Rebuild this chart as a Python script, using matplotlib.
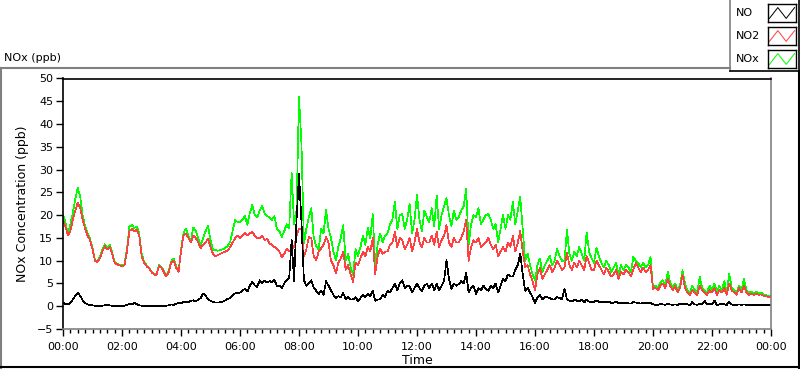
import numpy as np
import matplotlib.pyplot as plt
from matplotlib.lines import Line2D

# 5-minute readings, one row per hour (00:00 .. 23:55) plus the 24:00 value
no2 = [
    19, 17.5, 15.5, 16.5, 19, 21, 22.8, 21.5, 19, 17, 15.5, 14.5,
    12.5, 10, 9.7, 10.5, 12, 13.2, 12.5, 13, 11.5, 9.5, 9.2, 9,
    8.8, 9, 12, 16.5, 17, 16.5, 16.8, 15.5, 11, 9.5, 8.8, 8.3,
    7.5, 7, 6.8, 8.8, 8.5, 7.5, 6.5, 7.5, 9.5, 10, 8.5, 7.5,
    12, 15.5, 16, 15, 14, 15.5, 15, 14, 12.8, 13.5, 14, 14.9,
    13, 11.5, 11, 11.2, 11.5, 11.8, 12, 12.2, 13, 14, 14.9, 15.5,
    15, 15.5, 16.2, 15.6, 16, 16.3, 15.5, 15, 14.9, 15.5, 14.5, 14.8,
    13.8, 13.5, 13, 12.7, 12, 10.8, 11.5, 12.7, 12, 12.5, 13, 15.5,
    17, 17, 11, 12.5, 15.2, 14.9, 11, 10.1, 12, 12.7, 13.5, 15.2,
    14, 10, 9, 7.2, 9.5, 10.5, 11.9, 8, 9, 7, 5.3, 9.5,
    9.1, 10.5, 12, 11, 13, 12, 15, 7.1, 11, 12.7, 11.5, 12,
    12, 13.5, 14, 16.3, 13, 15, 14.6, 12.5, 13.5, 15, 12, 14,
    17, 14, 13, 15, 14, 14, 15.5, 13.5, 16.3, 13, 14.5, 15.5,
    17.8, 14, 13, 15, 14, 14, 15, 16.5, 19, 10, 13, 14.5,
    14, 15, 13, 13.5, 14, 15, 13.5, 12.5, 13.5, 11, 12, 13,
    12, 14, 13, 15.5, 12, 14, 16.5, 12, 8.6, 9, 7, 5.5,
    3.5, 7, 8.5, 6, 7, 8, 9, 7.5, 8.5, 10, 9, 8,
    8.5, 11.7, 9, 8, 9.5, 8.5, 10, 9, 8, 11, 9.5, 8,
    8, 10, 9, 8, 7, 8.5, 7.5, 6.5, 7, 8, 6, 7.5,
    7, 8, 7.5, 6.5, 8, 9.5, 8.5, 7.5, 8.5, 7.5, 8, 9,
    3.8, 4, 3.5, 4.5, 5, 4, 6, 4.5, 3.5, 4.5, 3, 4,
    7.0, 4, 3, 2.5, 3.5, 3, 2.5, 4.5, 3.5, 3, 2.5, 3.5,
    3, 4, 2.5, 3.5, 3, 4, 2.5, 5, 3.5, 3, 2.5, 4,
    3, 4.5, 3, 2.5, 2.8, 2.5, 2.8, 2.5, 2.6, 2.3, 2.2, 2.0,
    2.0,
]

nox = [
    20, 18.5, 15.5, 18, 20.5, 23.5, 26, 24, 20, 17.5, 16, 14.8,
    12.8, 10.2, 9.8, 10.8, 12.5, 13.6, 12.8, 13.5, 11.8, 9.7, 9.3, 9.1,
    8.9, 9.2, 12.5, 17.5, 17.8, 17.2, 17.5, 16, 11.5, 9.8, 9, 8.5,
    7.6, 7.1, 6.9, 9, 8.7, 7.7, 6.7, 7.8, 9.8, 10.5, 8.8, 7.6,
    12.5, 16, 17.1, 15.5, 14.3, 17.3, 16.5, 15, 13.3, 15, 16.5, 17.6,
    14.5, 12.5, 12.3, 12.2, 12.3, 12.5, 12.8, 13.2, 14.1, 16.5, 18.9, 18.5,
    18.5, 19, 19.8, 17.9, 20.5, 22.2, 20, 19.5, 21, 22, 20.4, 19.8,
    19.6, 19, 19.8, 17, 16.5, 15.2, 16.5, 18, 17.1, 29.2, 18, 21,
    46, 35.8, 13.8, 17, 19.6, 21.5, 15, 13.2, 12.5, 17, 16, 21.2,
    17, 15, 12, 10.1, 13, 15, 17.8, 10, 11.5, 8.5, 6.8, 12.5,
    11.1, 13, 15.5, 13.5, 17.2, 15, 20.2, 9, 13.5, 16, 14, 15.5,
    16, 18, 19, 22.9, 17, 20, 20.2, 17, 19, 22.5, 16, 19,
    24.4, 19, 16.5, 21, 19.6, 18.5, 21.5, 17.5, 24.2, 17, 20, 22,
    23.7, 20, 17.6, 21, 19, 19.6, 21, 22, 25.7, 13.5, 18, 20,
    19.6, 21.5, 18, 19, 20, 20.2, 19, 17, 18, 14, 17, 20,
    17, 20, 19, 22.9, 18, 21, 24, 17, 10, 11.5, 9, 7,
    5.7, 9, 10.5, 7.5, 9, 10, 11, 9, 10, 12.7, 11, 10,
    10, 16.8, 11.5, 10, 12, 11, 13, 11.5, 10, 16.2, 12, 10.5,
    9.5, 12.8, 11, 9.5, 8.5, 10, 9, 7.5, 8.5, 9.5, 7, 9,
    8, 9, 8.5, 7.5, 10.8, 10, 9.5, 8.5, 9.5, 8.5, 9, 10.8,
    4.0, 4.5, 4, 5.2, 5.7, 4.5, 7.5, 5.2, 4, 5, 3.5, 4.5,
    7.9, 5, 3.5, 3, 4.5, 3.5, 3, 6.4, 4, 3.5, 3, 4.5,
    3.5, 5, 3, 4.5, 3.5, 5.5, 3, 7.2, 4, 3.5, 3, 4.5,
    3.5, 6.0, 3.5, 3, 3.2, 2.8, 3.2, 2.8, 3.0, 2.6, 2.4, 2.2,
    2.2,
]

no = [
    0.8, 0.5, 0.4, 0.7, 1.5, 2.3, 2.9, 2.3, 1.3, 0.7, 0.4, 0.3,
    0.2, 0.1, 0.1, 0.1, 0.1, 0.2, 0.4, 0.2, 0.1, 0.0, 0.0, 0.0,
    0.1, 0.1, 0.3, 0.5, 0.4, 0.7, 0.5, 0.2, 0.1, 0.1, 0.1, 0.1,
    0.1, 0.1, 0.1, 0.1, 0.1, 0.1, 0.1, 0.2, 0.4, 0.3, 0.5, 0.7,
    0.6, 0.9, 1.0, 0.8, 1.2, 1.3, 1.0, 1.5, 1.8, 2.8, 2.3, 1.5,
    1.2, 0.9, 0.8, 0.8, 0.9, 1.0, 1.3, 1.6, 1.8, 2.5, 2.8, 2.9,
    3.0, 3.5, 3.8, 3.2, 4.5, 5.3, 4.6, 4.2, 5.7, 5.0, 5.6, 5.2,
    5.5, 5.3, 5.8, 4.4, 4.5, 4.0, 5.0, 5.8, 6.1, 14.5, 5.5, 18.9,
    29, 18.5, 5.7, 4.5, 5.0, 5.7, 4.0, 3.4, 2.7, 3.4, 2.5, 5.5,
    4.5, 3.5, 2.5, 1.8, 2.2, 2.0, 2.9, 1.5, 2.0, 1.5, 1.5, 2.0,
    1.1, 1.8, 2.5, 2, 2.7, 2.2, 3.4, 1.2, 1.5, 1.5, 2.5, 2.0,
    3.4, 3.0, 4.0, 4.9, 3.5, 5.0, 5.7, 4.0, 4.5, 4.4, 3.0, 4.0,
    4.9, 4.0, 3.4, 4.5, 4.9, 4.0, 5.0, 3.5, 5.0, 3.5, 4.5, 5.5,
    10.1, 6, 3.8, 5.0, 4.5, 4.9, 5.5, 5.0, 7.3, 3.0, 4.0, 4.5,
    2.7, 4.0, 3.5, 4.5, 3.8, 3.4, 4.5, 4.0, 5.0, 3.0, 4.5, 6.0,
    5.5, 7, 6.5, 6.5, 8.0, 9.0, 11.6, 7.0, 3.4, 4.0, 3.0, 2.0,
    0.7, 2.0, 2.5, 1.5, 2.0, 2.0, 1.8, 1.5, 1.5, 2.0, 1.8, 1.5,
    3.9, 1.5, 1.2, 1.0, 1.5, 1.2, 1.0, 1.4, 0.8, 1.5, 1.0, 1.0,
    1.0, 1.2, 1.0, 0.8, 1.0, 0.9, 1.0, 0.7, 0.8, 1.0, 0.6, 0.8,
    0.7, 0.8, 0.6, 0.6, 0.9, 0.8, 0.7, 0.6, 0.8, 0.7, 0.6, 0.8,
    0.4, 0.3, 0.3, 0.5, 0.4, 0.3, 0.5, 0.4, 0.3, 0.4, 0.3, 0.5,
    0.5, 0.6, 0.4, 0.3, 0.9, 0.4, 0.3, 0.6, 0.5, 1.2, 0.4, 0.5,
    0.5, 1.2, 0.3, 0.4, 0.5, 0.4, 0.3, 1.0, 0.4, 0.3, 0.3, 0.4,
    0.3, 0.4, 0.3, 0.2, 0.3, 0.2, 0.2, 0.2, 0.2, 0.2, 0.2, 0.2,
    0.2,
]

hours = np.arange(len(no)) / 12.0
tick_hours = list(range(0, 25, 2))
tick_labels = ["%02d:00" % (h % 24) for h in tick_hours]
series_names = ["NO", "NO2", "NOx"]
series_colors = ["#000000", "#FF4040", "#00FF00"]

plt.rcParams["font.family"] = "DejaVu Sans"
plt.rcParams["font.size"] = 8

fig = plt.figure(figsize=(8, 3.69), dpi=100)
ax = fig.add_axes([63 / 800, 1 - 329 / 369, 708 / 800, 250.5 / 369])

# green under red under black, like the reference
ax.plot(hours, nox, color=series_colors[2], lw=0.5, antialiased=False)
ax.plot(hours, no2, color=series_colors[1], lw=0.5, antialiased=False)
ax.plot(hours, no, color=series_colors[0], lw=0.5, antialiased=False)

ax.set_xlim(0, 24)
ax.set_ylim(-5, 50)
ax.set_xticks(tick_hours)
ax.set_xticklabels(tick_labels)
ax.set_xticks(np.arange(0, 24.01, 0.25), minor=True)
ax.set_yticks(range(-5, 51, 5))
ax.tick_params(axis="x", which="major", direction="out", length=5, width=1, pad=4)
ax.tick_params(axis="x", which="minor", direction="out", length=3, width=1)
ax.tick_params(axis="y", which="major", direction="out", length=5, width=1, pad=2)

ax.spines["left"].set_color("black")
ax.spines["top"].set_color("black")
ax.spines["right"].set_color("#808080")
ax.spines["bottom"].set_color("#808080")
for s in ax.spines.values():
    s.set_linewidth(1.2)

ax.set_ylabel("NOx Concentration (ppb)", fontsize=9, labelpad=6)
ax.set_xlabel("Time", fontsize=9, labelpad=2)

fig.text(4 / 800, 1 - 58 / 369, "NOx (ppb)", fontsize=8, va="center", ha="left")

# panel frame
fig.add_artist(Line2D([0, 730 / 800], [1 - 68 / 369] * 2, color="#808080", lw=1.5))
fig.add_artist(Line2D([1 / 800] * 2, [1 - 68 / 369, 0], color="#808080", lw=1.5))
fig.add_artist(Line2D([0, 1], [1 - 367 / 369] * 2, color="black", lw=1.5))
fig.add_artist(Line2D([799 / 800] * 2, [1 - 71 / 369, 0], color="black", lw=1.5))

# legend box
fig.add_artist(Line2D([730 / 800] * 2, [1, 1 - 71 / 369], color="#808080", lw=1.2))
fig.add_artist(Line2D([730 / 800, 1], [1 - 71 / 369] * 2, color="black", lw=1.2))
fig.add_artist(Line2D([799 / 800] * 2, [1, 1 - 71 / 369], color="black", lw=1.2))
for i, (name, col) in enumerate(zip(series_names, series_colors)):
    yc = 13 + i * 23
    fig.text(736 / 800, 1 - yc / 369, name, fontsize=8, va="center", ha="left")
    lax = fig.add_axes([768 / 800, 1 - (yc + 9) / 369, 28 / 800, 18 / 369])
    lax.plot([0.05, 0.35, 0.65, 0.95], [0.2, 0.8, 0.2, 0.8], color=col, lw=0.72)
    lax.set_xlim(0, 1)
    lax.set_ylim(0, 1)
    lax.set_xticks([])
    lax.set_yticks([])
    for s in lax.spines.values():
        s.set_color("black")
        s.set_linewidth(1)

fig.savefig("out.png", dpi=100)
